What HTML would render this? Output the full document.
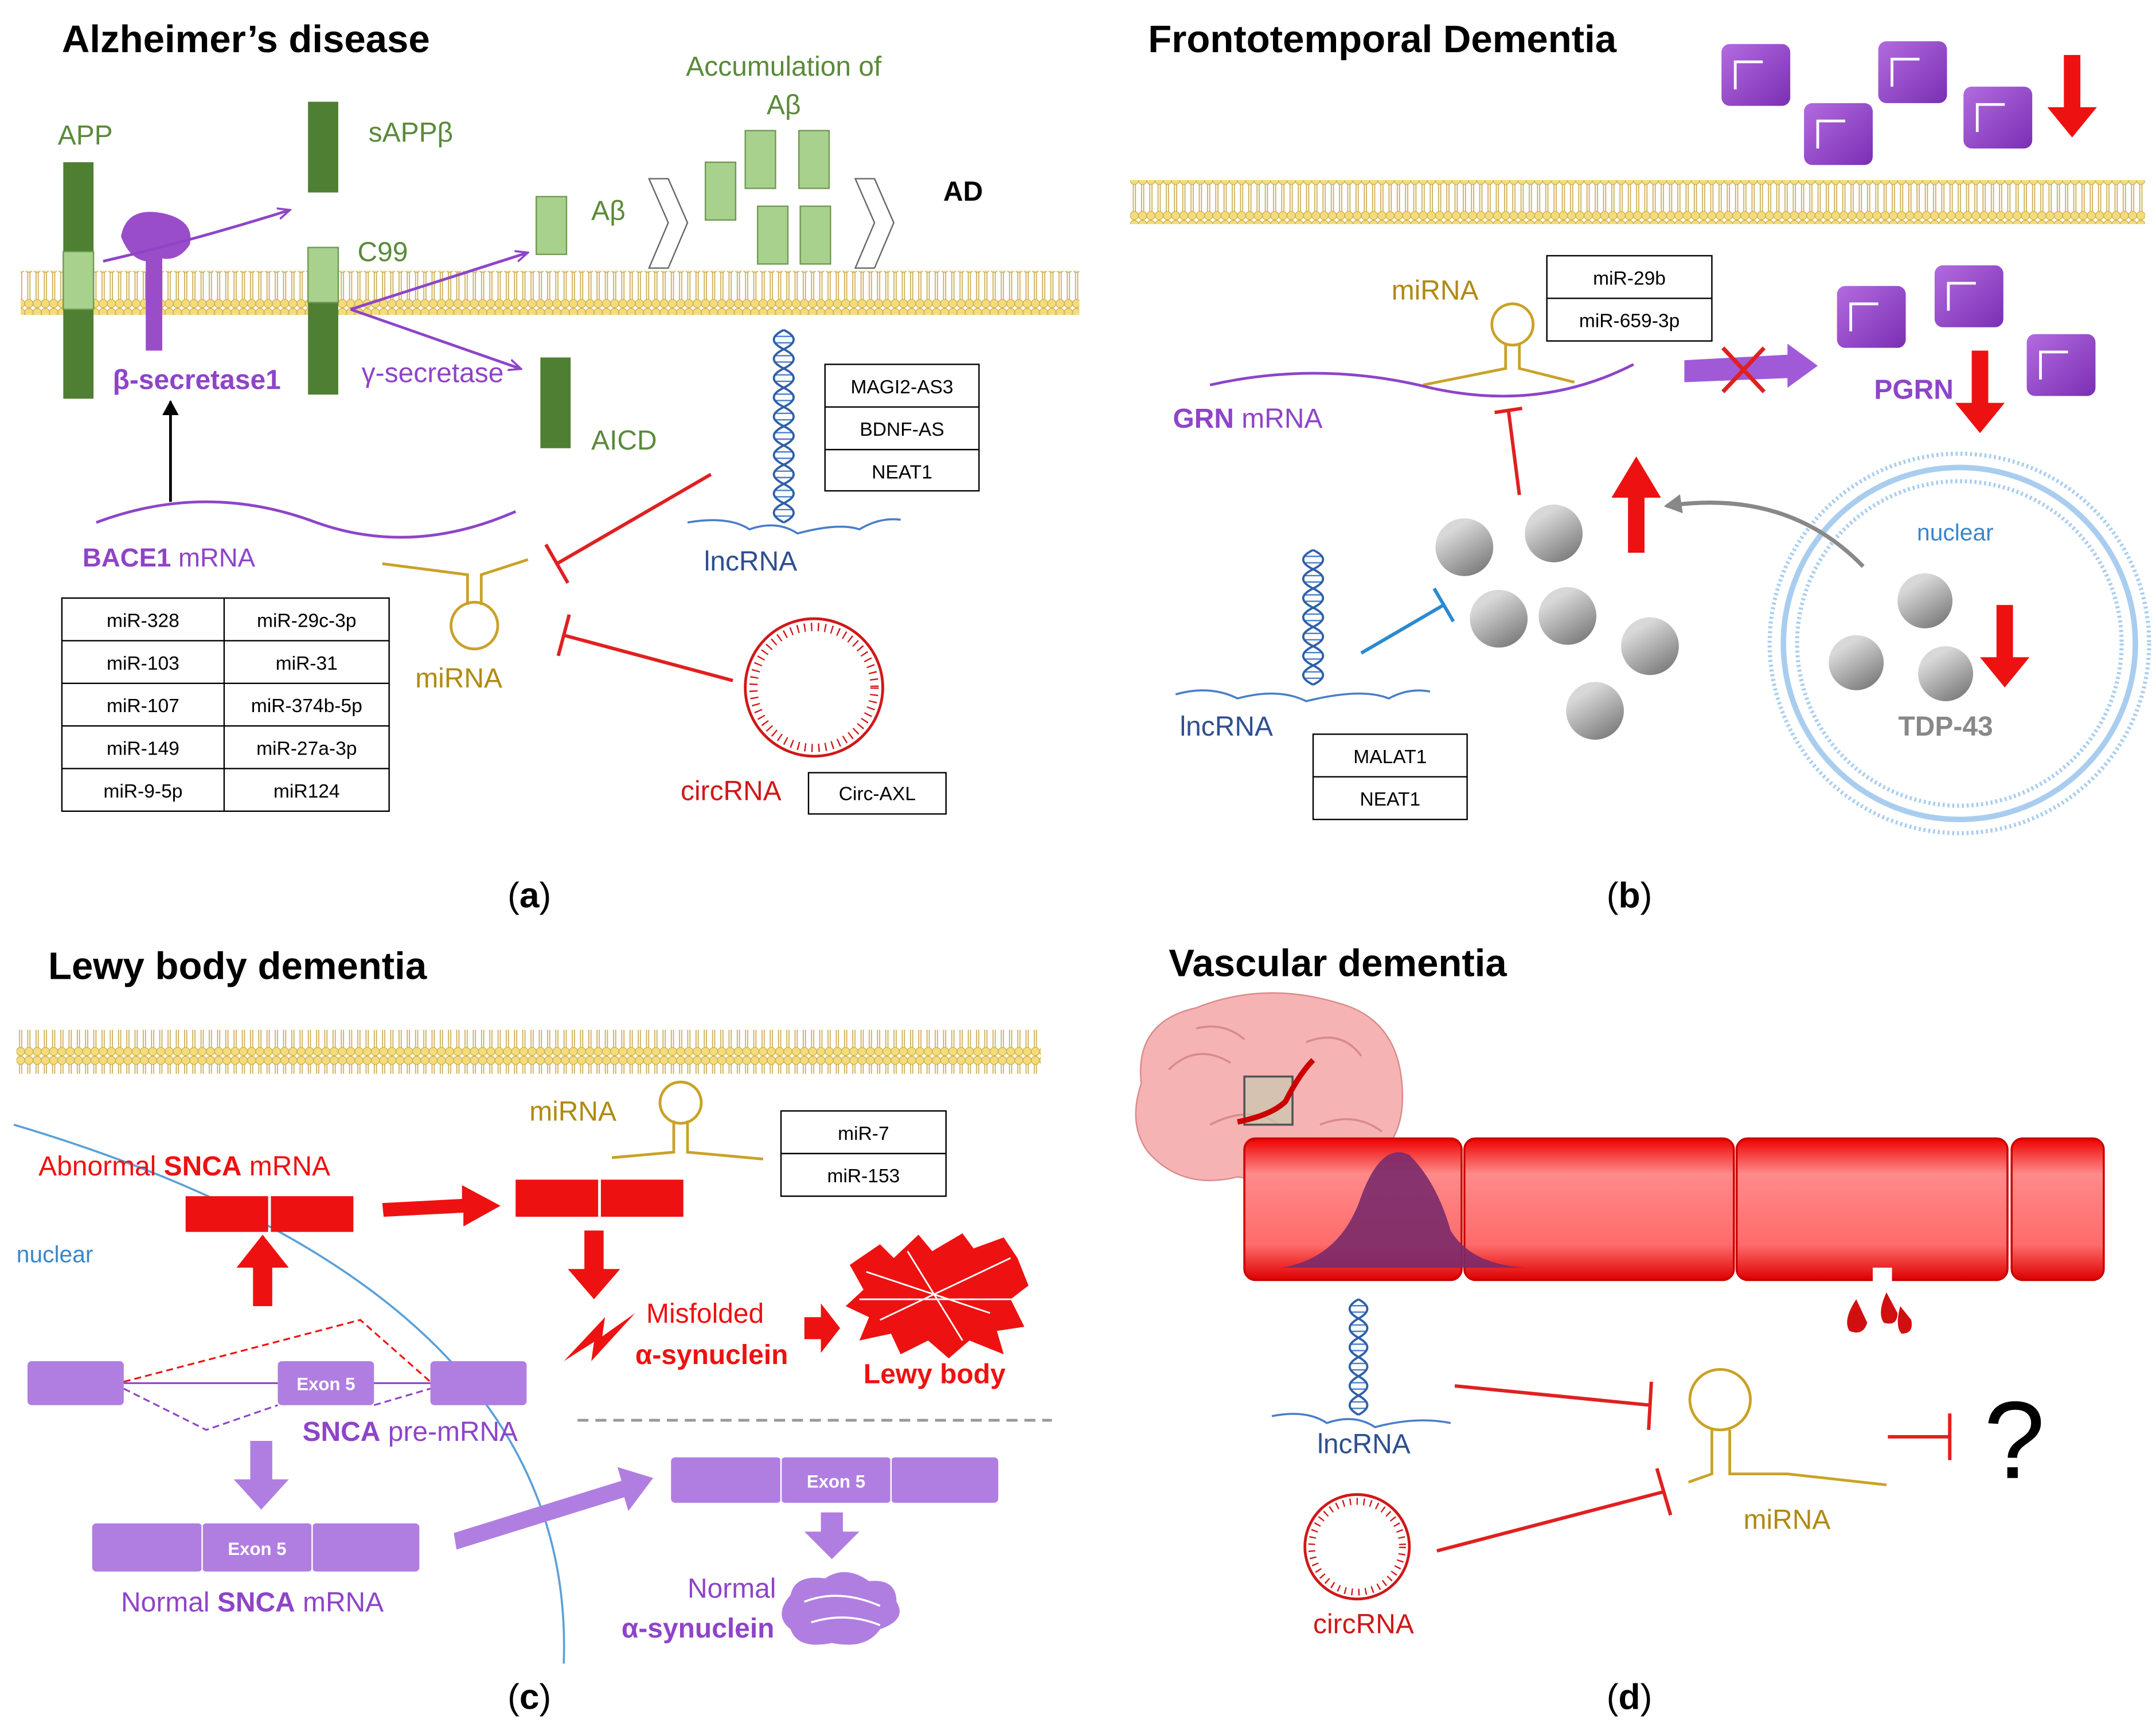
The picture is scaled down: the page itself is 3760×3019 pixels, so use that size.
<!DOCTYPE html>
<html><head><meta charset="utf-8">
<style>
html,body{margin:0;padding:0;background:#fff;}
svg{display:block;}
text{font-family:"Liberation Sans",sans-serif;}
</style></head>
<body>
<svg width="3760" height="3019" viewBox="0 0 1568 1259" xmlns="http://www.w3.org/2000/svg">
<defs>
<pattern id="mem" x="0" y="0" width="6" height="32" patternUnits="userSpaceOnUse">
<line x1="2.2" y1="5" x2="2.2" y2="27" stroke="#c9a94a" stroke-width="0.7"/>
<line x1="3.8" y1="5" x2="3.8" y2="27" stroke="#c9a94a" stroke-width="0.7"/>
<circle cx="3" cy="3.2" r="3" fill="#f4dc7a" stroke="#c9a94a" stroke-width="0.5"/>
<circle cx="3" cy="28.8" r="3" fill="#f4dc7a" stroke="#c9a94a" stroke-width="0.5"/>
</pattern>
<marker id="ap" markerWidth="10" markerHeight="10" refX="8" refY="5" orient="auto" markerUnits="userSpaceOnUse"><path d="M0,1 L9,5 L0,9" fill="none" stroke="#8e44c8" stroke-width="1.5"/></marker>
<marker id="ab" markerWidth="12" markerHeight="12" refX="10" refY="6" orient="auto" markerUnits="userSpaceOnUse"><path d="M0,0 L11,6 L0,12 z" fill="#000"/></marker>
<marker id="ag" markerWidth="14" markerHeight="14" refX="11" refY="7" orient="auto" markerUnits="userSpaceOnUse"><path d="M0,0 L13,7 L0,14 z" fill="#888"/></marker>
<linearGradient id="ves" x1="0" y1="0" x2="0" y2="1"><stop offset="0" stop-color="#e00"/><stop offset="0.25" stop-color="#ff8a8a"/><stop offset="0.75" stop-color="#ff6b6b"/><stop offset="1" stop-color="#d00"/></linearGradient>
<linearGradient id="sph" x1="0.3" y1="0.2" x2="0.8" y2="1"><stop offset="0" stop-color="#d8d8d8"/><stop offset="1" stop-color="#777"/></linearGradient>
<linearGradient id="sq" x1="0" y1="0" x2="1" y2="1"><stop offset="0" stop-color="#b36bdf"/><stop offset="1" stop-color="#7a2fb3"/></linearGradient>
</defs>

<!-- ================= PANEL A ================= -->
<text x="45" y="38" font-size="28" font-weight="bold">Alzheimer’s disease</text>
<rect x="15" y="197" width="770" height="32" fill="url(#mem)"/>
<g fill="#4f7f32"><rect x="46" y="118" width="22" height="65"/><rect x="46" y="225" width="22" height="65"/>
<rect x="224" y="74" width="22" height="66"/><rect x="224" y="220" width="22" height="67"/><rect x="393" y="260" width="22" height="66"/></g>
<g fill="#a9d18e" stroke="#6f9a52"><rect x="46" y="183" width="22" height="42"/><rect x="224" y="180" width="22" height="40"/><rect x="390" y="143" width="22" height="42"/>
<rect x="513" y="118" width="22" height="42"/><rect x="542" y="95" width="22" height="42"/><rect x="581" y="95" width="22" height="42"/><rect x="551" y="150" width="22" height="42"/><rect x="582" y="150" width="22" height="42"/></g>
<g fill="#5a8a3a" font-size="20"><text x="42" y="105">APP</text><text x="268" y="103">sAPPβ</text><text x="260" y="190">C99</text><text x="430" y="160">Aβ</text><text x="430" y="327">AICD</text>
<text x="570" y="55" text-anchor="middle">Accumulation of</text><text x="570" y="83" text-anchor="middle">Aβ</text></g>
<path d="M472,130 L486,130 L500,162 L486,195 L472,195 L486,162 z" fill="#fff" stroke="#666"/>
<path d="M622,130 L636,130 L650,162 L636,195 L622,195 L636,162 z" fill="#fff" stroke="#666"/>
<text x="686" y="146" font-size="20" font-weight="bold">AD</text>
<path d="M88,172 Q92,150 118,155 Q142,160 138,178 Q130,190 118,188 L118,255 L106,255 L106,190 Q94,188 88,172 z" fill="#9a4dc9"/>
<path d="M75,190 Q140,175 210,153" fill="none" stroke="#8e44c8" stroke-width="2" marker-end="url(#ap)"/>
<path d="M255,225 L383,184" fill="none" stroke="#8e44c8" stroke-width="2" marker-end="url(#ap)"/>
<path d="M255,225 L378,268" fill="none" stroke="#8e44c8" stroke-width="2" marker-end="url(#ap)"/>
<text x="82" y="283" font-size="20" font-weight="bold" fill="#8e44c8">β-secretase1</text>
<text x="263" y="278" font-size="20" fill="#8e44c8">γ-secretase</text>
<line x1="124" y1="365" x2="124" y2="292" stroke="#000" stroke-width="2" marker-end="url(#ab)"/>
<path d="M70,380 Q150,350 230,380 Q300,405 375,372" fill="none" stroke="#8e44c8" stroke-width="2"/>
<text x="60" y="412" font-size="19" fill="#8e44c8"><tspan font-weight="bold">BACE1</tspan> mRNA</text>
<g fill="none" stroke="#c9a227" stroke-width="2"><path d="M278,410 L340,418 L340,440"/><path d="M384,407 L350,418 L350,440"/><circle cx="345" cy="455" r="17"/></g>
<text x="302" y="500" font-size="20" fill="#b08a10">miRNA</text>
<g font-size="14" text-anchor="middle"><rect x="45" y="435" width="238" height="155" fill="none" stroke="#000"/>
<line x1="163" y1="435" x2="163" y2="590" stroke="#000"/>
<line x1="45" y1="466" x2="283" y2="466" stroke="#000"/><line x1="45" y1="497" x2="283" y2="497" stroke="#000"/><line x1="45" y1="528" x2="283" y2="528" stroke="#000"/><line x1="45" y1="559" x2="283" y2="559" stroke="#000"/>
<text x="104" y="456">miR-328</text><text x="223" y="456">miR-29c-3p</text><text x="104" y="487">miR-103</text><text x="223" y="487">miR-31</text>
<text x="104" y="518">miR-107</text><text x="223" y="518">miR-374b-5p</text><text x="104" y="549">miR-149</text><text x="223" y="549">miR-27a-3p</text>
<text x="104" y="580">miR-9-5p</text><text x="223" y="580">miR124</text></g>
<path d="M500,380 Q530,375 545,385 Q565,378 580,388 Q610,380 625,385 Q640,376 655,378" fill="none" stroke="#4a7ec8" stroke-width="1.5"/>
<text x="512" y="415" font-size="20" fill="#2f4f8f">lncRNA</text>
<g font-size="14" text-anchor="middle"><rect x="600" y="265" width="112" height="92" fill="none" stroke="#000"/><line x1="600" y1="296" x2="712" y2="296" stroke="#000"/><line x1="600" y1="327" x2="712" y2="327" stroke="#000"/>
<text x="656" y="286">MAGI2-AS3</text><text x="656" y="317">BDNF-AS</text><text x="656" y="348">NEAT1</text></g>
<g stroke="#e02020" stroke-width="2.5"><line x1="517" y1="345" x2="405" y2="410"/><line x1="397" y1="396" x2="413" y2="424"/>
<line x1="533" y1="495" x2="410" y2="462"/><line x1="406" y1="477" x2="414" y2="447"/></g>
<circle cx="592" cy="500" r="50" fill="none" stroke="#d01818" stroke-width="2"/>
<circle cx="592" cy="500" r="44" fill="none" stroke="#d01818" stroke-width="6" stroke-dasharray="1 4"/>
<text x="495" y="582" font-size="20" fill="#d01818">circRNA</text>
<rect x="588" y="562" width="100" height="30" fill="none" stroke="#000"/><text x="638" y="582" font-size="14" text-anchor="middle">Circ-AXL</text>
<text x="385" y="660" font-size="26" font-family="Liberation Serif" text-anchor="middle">(<tspan font-weight="bold">a</tspan>)</text>

<!-- ================= PANEL B ================= -->
<text x="835" y="38" font-size="28" font-weight="bold">Frontotemporal Dementia</text>
<g fill="url(#sq)"><rect x="1252" y="32" width="50" height="45" rx="6"/><rect x="1366" y="30" width="50" height="45" rx="6"/><rect x="1312" y="75" width="50" height="45" rx="6"/><rect x="1428" y="63" width="50" height="45" rx="6"/>
<rect x="1336" y="208" width="50" height="45" rx="6"/><rect x="1407" y="193" width="50" height="45" rx="6"/><rect x="1474" y="243" width="50" height="45" rx="6"/></g>
<g fill="none" stroke="#fff" stroke-width="2"><path d="M1262,65 L1262,45 L1282,45"/><path d="M1376,63 L1376,43 L1396,43"/><path d="M1322,108 L1322,88 L1342,88"/><path d="M1438,96 L1438,76 L1458,76"/><path d="M1346,241 L1346,221 L1366,221"/><path d="M1417,226 L1417,206 L1437,206"/><path d="M1484,276 L1484,256 L1504,256"/></g>
<rect x="822" y="131" width="738" height="32" fill="url(#mem)"/>
<text x="1012" y="218" font-size="20" fill="#b08a10">miRNA</text>
<g fill="none" stroke="#c9a227" stroke-width="2"><path d="M1035,280 L1095,268 L1095,250"/><path d="M1145,278 L1105,268 L1105,250"/><circle cx="1100" cy="236" r="15"/></g>
<path d="M880,280 Q960,262 1040,282 Q1120,300 1188,265" fill="none" stroke="#8e44c8" stroke-width="2"/>
<text x="853" y="311" font-size="20" fill="#8e44c8"><tspan font-weight="bold">GRN</tspan> mRNA</text>
<g font-size="14" text-anchor="middle"><rect x="1125" y="186" width="120" height="62" fill="none" stroke="#000"/><line x1="1125" y1="217" x2="1245" y2="217" stroke="#000"/>
<text x="1185" y="207">miR-29b</text><text x="1185" y="238">miR-659-3p</text></g>
<path d="M1225,262 L1300,258 L1300,250 L1322,266 L1300,282 L1300,275 L1225,278 z" fill="#a05ad8"/>
<g stroke="#e02020" stroke-width="3"><line x1="1253" y1="253" x2="1283" y2="285"/><line x1="1283" y1="253" x2="1253" y2="285"/></g>
<text x="1363" y="290" font-size="20" font-weight="bold" fill="#8e44c8">PGRN</text>
<g stroke="#e02020" stroke-width="2.5"><line x1="1105" y1="360" x2="1097" y2="298"/><line x1="1087" y1="300" x2="1107" y2="297"/></g>
<g fill="#ee1111"><path d="M1501,40 h12 v38 h12 l-18,22 l-18,-22 h12 z"/><path d="M1434,255 h12 v38 h12 l-18,22 l-18,-22 h12 z"/><path d="M1452,440 h12 v38 h12 l-18,22 l-18,-22 h12 z"/>
<path d="M1184,402 h12 v-40 h12 l-18,-30 l-18,30 h12 z"/></g>
<circle cx="1425" cy="468" r="128" fill="none" stroke="#a9cdef" stroke-width="4"/>
<circle cx="1425" cy="468" r="138" fill="none" stroke="#a9cdef" stroke-width="3" stroke-dasharray="1.5 2"/>
<circle cx="1425" cy="468" r="118" fill="none" stroke="#a9cdef" stroke-width="3" stroke-dasharray="1.5 2"/>
<text x="1422" y="393" font-size="17" fill="#3a86c8" text-anchor="middle">nuclear</text>
<text x="1415" y="535" font-size="20" font-weight="bold" fill="#888" text-anchor="middle">TDP-43</text>
<path d="M1355,412 Q1300,355 1212,368" fill="none" stroke="#888" stroke-width="3" marker-end="url(#ag)"/>
<g fill="url(#sph)"><circle cx="1065" cy="398" r="21"/><circle cx="1130" cy="388" r="21"/><circle cx="1090" cy="450" r="21"/><circle cx="1140" cy="448" r="21"/><circle cx="1200" cy="470" r="21"/><circle cx="1160" cy="517" r="21"/>
<circle cx="1400" cy="437" r="20"/><circle cx="1350" cy="482" r="20"/><circle cx="1415" cy="490" r="20"/></g>
<path d="M855,505 Q880,498 900,508 Q930,500 950,510 Q990,500 1010,508 Q1025,500 1040,503" fill="none" stroke="#4a7ec8" stroke-width="1.5"/>
<text x="858" y="535" font-size="20" fill="#2f4f8f">lncRNA</text>
<g stroke="#2a8ad0" stroke-width="2.5"><line x1="990" y1="475" x2="1050" y2="440"/><line x1="1043" y1="428" x2="1057" y2="452"/></g>
<g font-size="14" text-anchor="middle"><rect x="955" y="534" width="112" height="62" fill="none" stroke="#000"/><line x1="955" y1="565" x2="1067" y2="565" stroke="#000"/>
<text x="1011" y="555">MALAT1</text><text x="1011" y="586">NEAT1</text></g>
<text x="1185" y="660" font-size="26" font-family="Liberation Serif" text-anchor="middle">(<tspan font-weight="bold">b</tspan>)</text>

<!-- ================= PANEL C ================= -->
<text x="35" y="712" font-size="28" font-weight="bold">Lewy body dementia</text>
<rect x="12" y="749" width="745" height="32" fill="url(#mem)"/>
<path d="M10,818 Q420,940 410,1210" fill="none" stroke="#5aa0d8" stroke-width="1.5"/>
<text x="12" y="918" font-size="17" fill="#3a86c8">nuclear</text>
<text x="28" y="855" font-size="20" fill="#ee1111">Abnormal <tspan font-weight="bold">SNCA</tspan> mRNA</text>
<g fill="#ee1111"><rect x="135" y="870" width="60" height="26"/><rect x="197" y="870" width="60" height="26"/><rect x="375" y="858" width="60" height="27"/><rect x="437" y="858" width="60" height="27"/>
<path d="M184,950 h14 v-28 h12 l-19,-24 l-19,24 h12 z"/>
<path d="M278,875 l58,-3 v-10 l28,15 l-27,15 v-10 l-58,3 z"/>
<path d="M425,895 h14 v28 h12 l-19,22 l-19,-22 h12 z"/>
<path d="M410,990 L440,958 L438,972 L462,955 L430,990 L432,976 z"/>
<path d="M585,958 h12 v-10 l14,18 l-14,18 v-10 h-12 z"/>
<path d="M618,920 L640,905 L650,915 L668,898 L678,910 L700,897 L708,908 L730,900 L740,915 L748,935 L735,945 L745,965 L725,968 L730,985 L705,975 L690,988 L675,975 L655,985 L648,970 L625,975 L632,958 L615,950 L628,938 z"/></g>
<g stroke="#fff" stroke-width="1.2" fill="none"><path d="M630,925 L720,955 M640,960 L735,915 M660,910 L700,975 M625,945 L740,945"/></g>
<text x="385" y="815" font-size="20" fill="#b08a10">miRNA</text>
<g fill="none" stroke="#c9a227" stroke-width="2"><path d="M445,842 L490,838 L490,815"/><path d="M555,843 L500,838 L500,815"/><circle cx="495" cy="802" r="15"/></g>
<g font-size="14" text-anchor="middle"><rect x="568" y="808" width="120" height="62" fill="none" stroke="#000"/><line x1="568" y1="839" x2="688" y2="839" stroke="#000"/>
<text x="628" y="829">miR-7</text><text x="628" y="860">miR-153</text></g>
<text x="470" y="962" font-size="20" fill="#ee1111">Misfolded</text>
<text x="462" y="992" font-size="20" font-weight="bold" fill="#ee1111">α-synuclein</text>
<text x="628" y="1006" font-size="20" font-weight="bold" fill="#ee1111">Lewy body</text>
<line x1="420" y1="1033" x2="765" y2="1033" stroke="#999" stroke-width="2" stroke-dasharray="8 5"/>
<g fill="#b07ee0"><rect x="20" y="990" width="70" height="32" rx="3"/><rect x="202" y="990" width="70" height="32" rx="3"/><rect x="313" y="990" width="70" height="32" rx="3"/>
<rect x="67" y="1108" width="80" height="35" rx="3"/><rect x="147" y="1108" width="80" height="35" rx="3"/><rect x="227" y="1108" width="78" height="35" rx="3"/>
<rect x="488" y="1060" width="80" height="33" rx="3"/><rect x="568" y="1060" width="80" height="33" rx="3"/><rect x="648" y="1060" width="78" height="33" rx="3"/>
<path d="M182,1048 h16 v28 h12 l-20,22 l-20,-22 h12 z"/>
<path d="M330,1115 l122,-38 l-3,-10 l26,8 l-18,24 l-3,-10 l-122,38 z"/>
<path d="M597,1100 h16 v14 h12 l-20,20 l-20,-20 h12 z"/>
<path d="M575,1160 Q578,1145 600,1148 Q615,1138 632,1150 Q652,1148 652,1165 Q660,1178 640,1185 Q630,1200 605,1195 Q580,1200 575,1185 Q562,1175 575,1160 z"/></g>
<g stroke="#fff" stroke-width="1.5" fill="none"><path d="M585,1165 Q610,1155 640,1168 M590,1180 Q615,1172 640,1182"/></g>
<g stroke="#fff" stroke-width="1"><line x1="147" y1="1108" x2="147" y2="1143"/><line x1="227" y1="1108" x2="227" y2="1143"/><line x1="568" y1="1060" x2="568" y2="1093"/><line x1="648" y1="1060" x2="648" y2="1093"/></g>
<g font-size="13" font-weight="bold" fill="#fff" text-anchor="middle"><text x="237" y="1011">Exon 5</text><text x="187" y="1131">Exon 5</text><text x="608" y="1082">Exon 5</text></g>
<g fill="none" stroke-width="1.3"><path d="M90,1005 L262,960 L313,1005" stroke="#ee1111" stroke-dasharray="5 3"/><line x1="90" y1="1006" x2="202" y2="1006" stroke="#8e44c8"/><line x1="272" y1="1006" x2="313" y2="1006" stroke="#8e44c8"/>
<path d="M90,1010 L150,1040 L202,1022 M272,1022 L313,1010" stroke="#8e44c8" stroke-dasharray="5 3"/></g>
<text x="220" y="1048" font-size="20" fill="#8e44c8"><tspan font-weight="bold">SNCA</tspan> pre-mRNA</text>
<text x="88" y="1172" font-size="20" fill="#8e44c8">Normal <tspan font-weight="bold">SNCA</tspan> mRNA</text>
<text x="500" y="1162" font-size="20" fill="#8e44c8">Normal</text>
<text x="452" y="1191" font-size="20" font-weight="bold" fill="#8e44c8">α-synuclein</text>
<text x="385" y="1243" font-size="26" font-family="Liberation Serif" text-anchor="middle">(<tspan font-weight="bold">c</tspan>)</text>

<!-- ================= PANEL D ================= -->
<g transform="translate(0,18)">
<path d="M830,770 Q825,725 870,715 Q920,695 975,712 Q1020,725 1020,780 Q1020,825 975,835 Q940,845 900,838 Q860,848 835,820 Q820,800 830,770 z" fill="#f6b3b3" stroke="#d98a8a"/>
<g fill="none" stroke="#d98a8a" stroke-width="1.5"><path d="M850,760 Q870,740 895,755 M880,800 Q910,785 930,800 M950,740 Q975,730 990,750 M960,800 Q985,790 1005,805 M870,730 Q890,725 905,738"/></g>
<rect x="905" y="765" width="35" height="35" fill="#c9c9b0" fill-opacity="0.7" stroke="#555" stroke-width="1.5"/>
<path d="M900,798 Q925,793 935,783 Q945,763 955,753" fill="none" stroke="#c00" stroke-width="4"/>
</g>
<text x="850" y="710" font-size="28" font-weight="bold">Vascular dementia</text>
<g fill="url(#ves)" stroke="#c00" stroke-width="1.5"><rect x="905" y="828" width="158" height="103" rx="8"/><rect x="1065" y="828" width="196" height="103" rx="8"/><rect x="1263" y="828" width="197" height="103" rx="8"/><rect x="1463" y="828" width="67" height="103" rx="8"/></g>
<rect x="1362" y="922" width="14" height="10" fill="#fff"/>
<path d="M932,922 Q975,915 990,870 Q1005,830 1025,840 Q1045,860 1055,895 Q1070,920 1110,922 z" fill="#7a2a6a" fill-opacity="0.9"/>
<g fill="#d01010"><path d="M1350,945 Q1340,960 1345,968 Q1355,972 1358,962 z"/><path d="M1372,940 Q1365,955 1370,962 Q1380,965 1380,955 z"/><path d="M1382,950 Q1378,965 1383,970 Q1392,970 1390,960 z"/></g>
<path d="M925,1030 Q950,1025 965,1035 Q985,1028 1000,1038 Q1030,1030 1055,1035" fill="none" stroke="#4a7ec8" stroke-width="1.5"/>
<text x="958" y="1057" font-size="20" fill="#2f4f8f">lncRNA</text>
<circle cx="987" cy="1125" r="38" fill="none" stroke="#d01818" stroke-width="2"/>
<circle cx="987" cy="1125" r="33" fill="none" stroke="#d01818" stroke-width="5" stroke-dasharray="1 4"/>
<text x="955" y="1188" font-size="20" fill="#d01818">circRNA</text>
<g stroke="#e02020" stroke-width="2.5"><line x1="1058" y1="1008" x2="1200" y2="1022"/><line x1="1201" y1="1005" x2="1199" y2="1040"/>
<line x1="1045" y1="1128" x2="1210" y2="1085"/><line x1="1205" y1="1068" x2="1215" y2="1102"/>
<line x1="1373" y1="1045" x2="1418" y2="1045"/><line x1="1418" y1="1028" x2="1418" y2="1062"/></g>
<g fill="none" stroke="#c9a227" stroke-width="2"><path d="M1228,1078 L1245,1072 L1245,1040"/><path d="M1372,1080 L1300,1072 L1258,1072 L1258,1040"/><circle cx="1251" cy="1018" r="22"/></g>
<text x="1268" y="1112" font-size="20" fill="#b08a10">miRNA</text>
<text x="1465" y="1075" font-size="80" text-anchor="middle">?</text>
<text x="1185" y="1243" font-size="26" font-family="Liberation Serif" text-anchor="middle">(<tspan font-weight="bold">d</tspan>)</text>

<g id="helices"></g>
</svg>
<script>
(function(){
 var ns="http://www.w3.org/2000/svg";
 var g=document.getElementById("helices");
 function helix(cx,y0,y1,a){
  var d1="M"+cx+","+y0, d2="M"+cx+","+y0, step=14, n=Math.floor((y1-y0)/step);
  for(var i=0;i<n;i++){var s=(i%2?-1:1)*a;
   d1+=" q"+(s*1.6)+","+(step/2)+" 0,"+step; d2+=" q"+(-s*1.6)+","+(step/2)+" 0,"+step;
   for(var k=1;k<3;k++){var y=y0+i*step+k*step/3;var l=document.createElementNS(ns,"line");
    l.setAttribute("x1",cx-a*0.8);l.setAttribute("x2",cx+a*0.8);l.setAttribute("y1",y);l.setAttribute("y2",y);
    l.setAttribute("stroke","#4a7ec8");l.setAttribute("stroke-width","1");g.appendChild(l);}
  }
  [d1,d2].forEach(function(d){var p=document.createElementNS(ns,"path");p.setAttribute("d",d);p.setAttribute("fill","none");
   p.setAttribute("stroke","#2f5fa8");p.setAttribute("stroke-width","1.6");g.appendChild(p);});
 }
 helix(570,240,385,9);helix(955,400,505,9);helix(988,945,1035,8);
})();
</script>
</body></html>
